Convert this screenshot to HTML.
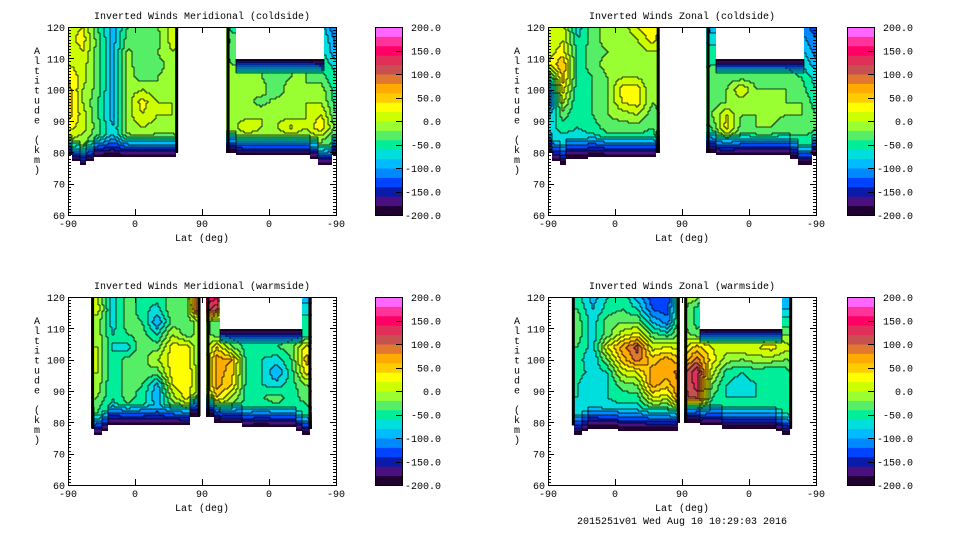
<!DOCTYPE html>
<html><head><meta charset="utf-8">
<style>
html,body{margin:0;padding:0;background:#fff;}
svg{display:block;}
text{font-family:"Liberation Mono",monospace;font-size:10px;fill:#000;}
</style></head>
<body>
<svg id="chart" width="960" height="540" viewBox="0 0 960 540" xmlns="http://www.w3.org/2000/svg">
<rect x="0" y="0" width="960" height="540" fill="#fff"/>
<text x="682" y="524" text-anchor="middle">2015251v01 Wed Aug 10 10:29:03 2016</text>
</svg>
<script>
// ---- shared data ----
const xTickLabels = ["-90","0","90","0","-90"];
const xTickTracks = [0,90,180,270,360];
const yTickLabels = [60,70,80,90,100,110,120];
const cbLabels = ["200.0","150.0","100.0","50.0","0.0","-50.0","-100.0","-150.0","-200.0"];
const cbValues = [200,150,100,50,0,-50,-100,-150,-200];
const bandColors = ["#200030","#4a1080","#0a1aaa","#0044ff","#0088ff","#00bbff","#00dddd","#00ee99","#55ee66","#99ff33",
                    "#ccff00","#ffff00","#ffcc00","#ffaa00","#e07830","#c85050","#e0305a","#ff0066","#ff3399","#ff66ff"];
const gridAlts = [120,116,112,108,104,100,96,92,88,84];
const gridTracks = [0,20,40,60,80,100,120,140,160,180,200,220,240,260,280,300,320,340,360];

// ---- panel 1: meridional coldside ----
const p1Grid = [
 [10,20,-40,-90,-40,-30,-20,10,-10,-10,50,-50,-50,-50,-50,-50,-50,-70,-120],
 [10,30,-30,-90,-30,-30,-30,10,-10,-10,30,-30,-30,-30,-30,-30,-30,-50,-110],
 [0,20,-30,-90,-15,-30,-20,0,-10,-10,10,-30,-30,-30,-30,-30,-30,-50,-100],
 [20,10,-30,-90,-15,-30,-30,-10,-10,-10,-10,-20,-20,-20,-20,-20,-20,-40,-70],
 [40,10,-30,-90,-10,-30,-20,-10,-10,-10,-10,-20,-20,-20,-30,-20,-20,-30,-60],
 [50,0,-30,-90,-10,0,-20,0,-10,-10,-10,-10,-20,-10,-40,0,-20,-10,-50],
 [60,0,-40,-90,-10,30,0,0,-10,-10,-10,-10,-10,-30,-10,-10,0,0,-50],
 [50,10,-40,-90,-10,20,0,0,-10,-10,-10,-10,-10,0,-10,-10,0,20,-40],
 [30,10,-30,-80,-10,0,-10,-10,-10,-10,-10,-10,20,0,0,25,0,40,-30],
 [0,-10,-40,-80,-30,-30,-30,-30,-10,-10,-10,-30,-20,-20,-20,-20,-20,-20,-40]];
const p1Bottom = [79,77,76,77,78.5,78.5,78.5,78.5,78.5,78.5,78.5,78.5,78.5,78.5,78.5,80,80,80,80,80,80,80,80,79,79,79,79,79,79,79,79,79,79,78,76,76,79];
const p1Top = [120,120,120,120,120,120,120,120,120,120,120,120,120,120,120,120,120,120,120,120,120,120,120,110,110,110,110,110,110,110,110,110,110,110,110,120,120];
const p1Segments = [[0,148],[213,360]];

// ---- panel 2: zonal coldside ----
const p2Grid = [
 [0,10,-70,-30,-10,-10,20,40,-10,-10,-50,-90,-90,-90,-90,-90,-90,-110,-130],
 [0,20,-60,-30,-10,-20,0,30,-10,-10,-50,-70,-70,-70,-70,-70,-70,-90,-120],
 [10,30,-50,-30,-20,-20,-10,0,-10,-10,-50,-50,-50,-50,-50,-50,-50,-70,-110],
 [20,60,-50,-30,-10,-20,-20,-20,-10,-10,-50,-40,-40,-40,-40,-40,-40,-60,-90],
 [-70,50,-50,-40,-20,0,0,-20,-10,-10,-50,-20,-30,-30,-30,-30,-30,-40,-70],
 [-130,30,-60,-40,-20,30,30,-20,-10,-10,-50,-30,-20,20,-20,-20,-20,-30,-60],
 [-140,0,-60,-40,-20,20,30,-20,-10,-10,-50,-30,-20,-10,-20,-20,-20,-20,-50],
 [-90,-30,-60,-40,-20,-10,0,-30,-10,-10,-50,-20,20,-20,-20,-15,-20,-20,-40],
 [-70,-50,-60,-50,-30,-30,-30,-40,-10,-10,-50,-40,30,-30,-20,-20,-30,-20,-40],
 [-80,-70,-70,-70,-50,-50,-50,-50,-10,-10,-50,-50,-30,-50,-50,-50,-50,-50,-50]];
const p2Bottom = [80,77,76,78,78,78,78.5,78.5,78.5,78.5,78.5,78.5,78.5,78.5,78.5,80,80,80,80,80,80,80,80,79,79,79,79,79,79,79,79,79,79,78,76,76,79];
const p2Top = [120,120,120,120,120,120,120,120,120,120,120,120,120,120,120,120,120,120,120,120,120,120,120,110,110,110,110,110,110,110,110,110,110,110,110,120,120];
const p2Segments = [[0,150],[213,360]];

// ---- panel 3: meridional warmside ----
const p3Grid = [
 [-10,0,0,-70,-30,-50,-50,-30,-20,150,150,-90,-90,-90,-90,-90,-90,-90,-10],
 [-10,0,10,-70,-30,-50,-70,-20,-30,150,100,-70,-70,-70,-70,-70,-70,-70,-10],
 [-10,0,-10,-70,-30,-40,-100,-30,-30,-10,-30,-50,-50,-50,-50,-50,-50,-50,-10],
 [-10,0,-10,-60,-40,-30,-60,0,-30,-10,-30,-50,-50,-50,-50,-50,-50,-50,-10],
 [-10,0,0,-60,-70,-20,-30,30,30,-30,40,-20,-50,-50,-40,-30,30,-10,-10],
 [-10,0,0,-60,-30,-30,0,30,30,-30,70,60,-50,-60,-70,-40,50,-10,-10],
 [-10,0,0,-60,-30,-20,-30,30,40,-30,70,50,-50,-60,-100,-50,30,-10,-10],
 [-10,0,-10,-60,-30,-40,-90,20,40,-30,70,40,-50,-60,-70,-50,-20,-10,-10],
 [-10,-10,-20,-60,-30,-50,-100,-10,30,-30,40,0,-50,-40,-30,-50,-30,-10,-10],
 [-10,-30,-40,-70,-50,-60,-70,-50,-30,-40,-30,-40,-50,-60,-50,-50,-50,-10,-10]];
const p3Bottom = [80,80,80,78,76,77,79,79,79,79,79,79,79,79,79,79,79,82,82,82,80,79.5,79.5,79.5,78.5,78.5,78.5,78.5,78.5,78.5,78.5,77,76,78,78,78,78];
const p3Top = [120,120,120,120,120,120,120,120,120,120,120,120,120,120,120,120,120,120,120,120,120,110,110,110,110,110,110,110,110,110,110,110,120,120,120,120,120];
const p3Segments = [[31,178],[186,327]];

// ---- panel 4: zonal warmside ----
const p4Grid = [
 [-10,-50,-50,-90,-60,-40,-90,-130,-140,-10,-10,-100,-100,-100,-100,-100,-100,-100,-10],
 [-10,-40,-40,-80,-50,-40,-60,-120,-130,-10,-50,-80,-80,-80,-80,-80,-80,-80,-10],
 [-10,-30,-30,-70,-30,-20,-20,-80,-110,-10,-50,-50,-50,-50,-50,-50,-50,-50,-10],
 [-10,-30,-30,-70,-30,10,30,-30,-50,-10,-30,-20,-20,-20,-20,-20,-20,-20,-10],
 [-10,-40,-40,-70,20,70,110,10,20,10,50,20,10,20,20,30,10,-10,-10],
 [-10,-50,-50,-80,-20,50,90,50,70,40,90,30,-10,-20,-10,-10,-20,-10,-10],
 [-10,-50,-50,-70,-60,10,20,70,70,90,140,10,-50,-60,-50,-60,-50,-10,-10],
 [-10,-60,-60,-80,-60,-30,-20,70,50,90,130,-20,-60,-70,-60,-60,-50,-10,-10],
 [-10,-60,-60,-80,-60,-50,-50,20,10,90,110,-40,-60,-60,-60,-60,-60,-10,-10],
 [-10,-70,-70,-80,-70,-70,-70,-50,-50,-30,-30,-60,-60,-60,-60,-60,-60,-10,-10]];
const p4Bottom = [79,79,79,79,76,77,78,78,78,78,77.5,77.5,77.5,77.5,77.5,77.5,77.5,77.5,80,80,80,79,79,79,78,78,78,78,78,78,78,77,76,78,78,78,78];
const p4Top = [120,120,120,120,120,120,120,120,120,120,120,120,120,120,120,120,120,120,120,120,120,110,110,110,110,110,110,110,110,110,110,110,120,120,120,120,120];
const p4Segments = [[32,177],[183,328]];

const NS = "http://www.w3.org/2000/svg";
const svg = document.getElementById("chart");
function mk(tag, attrs, parent){
  const e = document.createElementNS(NS, tag);
  for (const k in attrs) e.setAttribute(k, attrs[k]);
  (parent||svg).appendChild(e);
  return e;
}
function bandOf(v){ let b = Math.floor((v+200)/20); return Math.max(0, Math.min(19, b)); }

function drawPanel(cfg, grid, bottom, top, segs){
  const g = mk("g", {});
  
  
  const X = t => cfg.x0 + t*cfg.w/360;
  const Y = a => cfg.y0 + (120-a)*cfg.h/60;
  const A = y => 120 - (y-cfg.y0)*60/cfg.h;
  const T = x => (x-cfg.x0)*360/cfg.w;
  function val(t, a){
    const c = Math.max(0, Math.min(18, t/20));
    const r = Math.max(0, Math.min(9, (120-a)/4));
    const c0 = Math.min(17, Math.floor(c)), r0 = Math.min(8, Math.floor(r));
    const fc = c-c0, fr = r-r0;
    return (grid[r0][c0]*(1-fc)+grid[r0][c0+1]*fc)*(1-fr) + (grid[r0+1][c0]*(1-fc)+grid[r0+1][c0+1]*fc)*fr;
  }
  function inSeg(t){ return segs.some(s => t>=s[0] && t<=s[1]); }
  const cs = 2;
  const nx = Math.floor(cfg.w/cs), ny = Math.ceil((Y(74)-cfg.y0)/cs);
  const bands = [];
  for (let j=0;j<ny;j++){
    const row = [];
    const a = A(cfg.y0 + j*cs + cs/2);
    for (let i=0;i<nx;i++){
      const t = T(cfg.x0 + i*cs + cs/2);
      if (!inSeg(t)) { row.push(-1); continue; }
      const k = Math.max(0, Math.min(36, Math.round(t/10)));
      const bt = bottom[k], tp = top[k];
      if (a < bt || a > tp) { row.push(-1); continue; }
      let v = val(t, a);
      const d = a - bt;
      if (d < 7) v = -200 + (v+200)*(d/7);
      if (tp < 120) { const dd = tp - a; if (dd < 5) v = -200 + (v+200)*(dd/5); }
      row.push(bandOf(v));
    }
    bands.push(row);
  }
  for (let j=0;j<ny;j++){
    let i=0;
    while(i<nx){
      const b = bands[j][i];
      let k=i; while(k<nx && bands[j][k]===b) k++;
      if (b>=0){
        const r = mk("rect",{x:cfg.x0+i*cs, y:cfg.y0+j*cs, width:(k-i)*cs, height:cs, fill:bandColors[b]}, g);
        
        
      }
      i=k;
    }
  }
  let p = "";
  for (let j=0;j<ny;j++) for (let i=0;i<nx;i++){
    const b = bands[j][i]; if (b<0) continue;
    if (i+1<nx && bands[j][i+1]>=0 && bands[j][i+1]!==b) p += `M${cfg.x0+(i+1)*cs} ${cfg.y0+j*cs}v${cs}`;
    if (j+1<ny && bands[j+1][i]>=0 && bands[j+1][i]!==b) p += `M${cfg.x0+i*cs} ${cfg.y0+(j+1)*cs}h${cs}`;
  }
  const cl = mk("path",{d:p, stroke:"#000", "stroke-width":0.8, fill:"none"}, g);
  
  
  segs.forEach(s => {
    [s[0], s[1]].forEach(t => {
      if (t<=0 || t>=360) return;
      const k = Math.round(t/10);
      const x = X(t) - (t===s[1] ? 3 : 0);
      const st = mk("rect",{x:x, y:Y(top[k]), width:3, height:Y(bottom[k])-Y(top[k]), fill:"#000"}, g);
      
      
    });
  });
  const fr = mk("rect",{x:cfg.x0+0.5, y:cfg.y0+0.5, width:cfg.w, height:cfg.h, fill:"none", stroke:"#000", "stroke-width":1}, g);
  
  
  let tp2 = "";
  for (let a=60;a<=120;a++){
    const y = Math.round(Y(a))+0.5, L = (a%10===0)?6:3;
    tp2 += `M${cfg.x0} ${y}h${L}M${cfg.x0+cfg.w} ${y}h${-L}`;
  }
  xTickTracks.forEach(t => { const x=Math.round(X(t))+0.5; tp2 += `M${x} ${cfg.y0+cfg.h}v-6M${x} ${cfg.y0}v6`; });
  const tk = mk("path",{d:tp2, stroke:"#000", "stroke-width":1, fill:"none"}, g);
  
  
  yTickLabels.forEach(a => {
    const tx = mk("text",{x:cfg.x0-3, y:Y(a)+4, "text-anchor":"end"}, g);
    tx.textContent = a;
    
    
  });
  xTickLabels.forEach((l,i) => {
    const tx = mk("text",{x:X(xTickTracks[i]), y:cfg.y0+cfg.h+12, "text-anchor":"middle"}, g);
    tx.textContent = l;
    
    
  });
  const xt = mk("text",{x:X(180), y:cfg.y0+cfg.h+26, "text-anchor":"middle"}, g);
  xt.textContent = "Lat (deg)";
  
  
  const ti = mk("text",{x:X(180), y:cfg.y0-8, "text-anchor":"middle"}, g);
  ti.textContent = cfg.title;
  
  
  const yl = "Altitude (km)";
  for (let i=0;i<yl.length;i++){
    const tx = mk("text",{x:cfg.x0-31, y:cfg.y0+27+i*9.9, "text-anchor":"middle"}, g);
    tx.textContent = yl[i];
    
    
  }
  const cb = mk("g", {}, g);
  
  
  const cbY = v => cfg.y0 + (200-v)*cfg.h/400;
  for (let b=0;b<20;b++){
    const v0 = -200 + b*20;
    const r = mk("rect",{x:cfg.cbx, y:cbY(v0+20), width:27, height:cbY(v0)-cbY(v0+20)+0.5, fill:bandColors[b]}, cb);
    
    
  }
  const cbf = mk("rect",{x:cfg.cbx+0.5, y:cfg.y0+0.5, width:27, height:cfg.h, fill:"none", stroke:"#000"}, cb);
  
  
  cbValues.forEach((v,i) => {
    const y = cbY(v);
    const tl = mk("line",{x1:cfg.cbx+21, x2:cfg.cbx+27, y1:Math.round(y)+0.5, y2:Math.round(y)+0.5, stroke:"#000"}, cb);
    
    
    const tx = mk("text",{x:cfg.cbx+66, y:y+4, "text-anchor":"end"}, cb);
    tx.textContent = cbLabels[i];
    
    
  });
}
drawPanel({name:"panel-meridional-coldside", title:"Inverted Winds Meridional (coldside)", x0:68, y0:27, w:268, h:188, cbx:375}, p1Grid, p1Bottom, p1Top, p1Segments);
drawPanel({name:"panel-zonal-coldside", title:"Inverted Winds Zonal (coldside)", x0:548, y0:27, w:268, h:188, cbx:847}, p2Grid, p2Bottom, p2Top, p2Segments);
drawPanel({name:"panel-meridional-warmside", title:"Inverted Winds Meridional (warmside)", x0:68, y0:297, w:268, h:188, cbx:375}, p3Grid, p3Bottom, p3Top, p3Segments);
drawPanel({name:"panel-zonal-warmside", title:"Inverted Winds Zonal (warmside)", x0:548, y0:297, w:268, h:188, cbx:847}, p4Grid, p4Bottom, p4Top, p4Segments);
</script>
</body></html>
